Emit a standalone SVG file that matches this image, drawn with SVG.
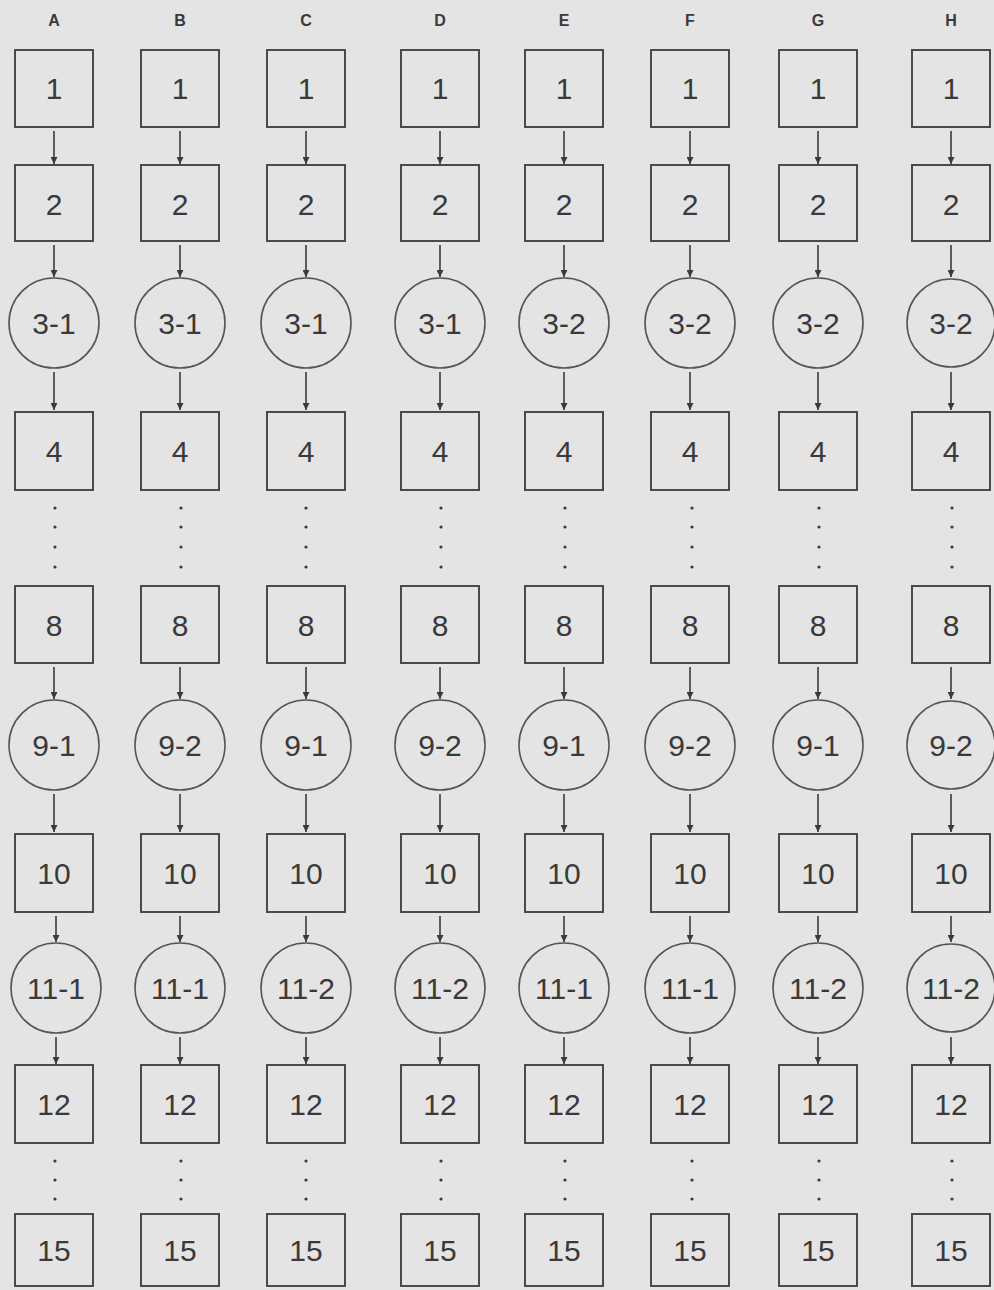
<svg xmlns="http://www.w3.org/2000/svg" width="994" height="1290" viewBox="0 0 994 1290">
<defs>
<marker id="ah" viewBox="0 0 10 10" refX="10" refY="5" markerWidth="8" markerHeight="7" markerUnits="userSpaceOnUse" orient="auto"><path d="M0,0 L10,5 L0,10 z" fill="#3a3a3a"/></marker>
<style>
.b{fill:none;stroke:#4a4a4a;stroke-width:2}
.c{fill:none;stroke:#555;stroke-width:1.6}
.t{font-family:"Liberation Sans",Arial,sans-serif;font-size:30px;fill:#3a3a3a;text-anchor:middle}
.h{font-family:"Liberation Sans",Arial,sans-serif;font-size:16px;font-weight:bold;fill:#3a3a3a;text-anchor:middle}
.a{stroke:#3a3a3a;stroke-width:1.6;fill:none;marker-end:url(#ah)}
.d{fill:#3a3a3a}
</style>
</defs>
<rect width="994" height="1290" fill="#e4e4e4"/>
<g id="headers">
<text class="h" x="54" y="26">A</text><text class="h" x="180" y="26">B</text><text class="h" x="306" y="26">C</text><text class="h" x="440" y="26">D</text><text class="h" x="564" y="26">E</text><text class="h" x="690" y="26">F</text><text class="h" x="818" y="26">G</text><text class="h" x="951" y="26">H</text>
</g>
<g id="colA">
<g id="A1"><rect class="b" x="15" y="50" width="78" height="77"/><text class="t" x="54" y="99">1</text></g>
<g id="A2"><rect class="b" x="15" y="165" width="78" height="76"/><text class="t" x="54" y="215">2</text></g>
<g id="A3"><circle class="c" cx="54" cy="323" r="45"/><text class="t" x="54" y="334">3-1</text></g>
<g id="A4"><rect class="b" x="15" y="412" width="78" height="78"/><text class="t" x="54" y="462">4</text></g>
<g id="A8"><rect class="b" x="15" y="586" width="78" height="77"/><text class="t" x="54" y="636">8</text></g>
<g id="A9"><circle class="c" cx="54" cy="745" r="45"/><text class="t" x="54" y="756">9-1</text></g>
<g id="A10"><rect class="b" x="15" y="834" width="78" height="78"/><text class="t" x="54" y="884">10</text></g>
<g id="A11"><circle class="c" cx="56" cy="988" r="45"/><text class="t" x="56" y="999">11-1</text></g>
<g id="A12"><rect class="b" x="15" y="1065" width="78" height="78"/><text class="t" x="54" y="1115">12</text></g>
<g id="A15"><rect class="b" x="15" y="1214" width="78" height="72"/><text class="t" x="54" y="1261">15</text></g>
</g>
<g id="colB">
<g id="B1"><rect class="b" x="141" y="50" width="78" height="77"/><text class="t" x="180" y="99">1</text></g>
<g id="B2"><rect class="b" x="141" y="165" width="78" height="76"/><text class="t" x="180" y="215">2</text></g>
<g id="B3"><circle class="c" cx="180" cy="323" r="45"/><text class="t" x="180" y="334">3-1</text></g>
<g id="B4"><rect class="b" x="141" y="412" width="78" height="78"/><text class="t" x="180" y="462">4</text></g>
<g id="B8"><rect class="b" x="141" y="586" width="78" height="77"/><text class="t" x="180" y="636">8</text></g>
<g id="B9"><circle class="c" cx="180" cy="745" r="45"/><text class="t" x="180" y="756">9-2</text></g>
<g id="B10"><rect class="b" x="141" y="834" width="78" height="78"/><text class="t" x="180" y="884">10</text></g>
<g id="B11"><circle class="c" cx="180" cy="988" r="45"/><text class="t" x="180" y="999">11-1</text></g>
<g id="B12"><rect class="b" x="141" y="1065" width="78" height="78"/><text class="t" x="180" y="1115">12</text></g>
<g id="B15"><rect class="b" x="141" y="1214" width="78" height="72"/><text class="t" x="180" y="1261">15</text></g>
</g>
<g id="colC">
<g id="C1"><rect class="b" x="267" y="50" width="78" height="77"/><text class="t" x="306" y="99">1</text></g>
<g id="C2"><rect class="b" x="267" y="165" width="78" height="76"/><text class="t" x="306" y="215">2</text></g>
<g id="C3"><circle class="c" cx="306" cy="323" r="45"/><text class="t" x="306" y="334">3-1</text></g>
<g id="C4"><rect class="b" x="267" y="412" width="78" height="78"/><text class="t" x="306" y="462">4</text></g>
<g id="C8"><rect class="b" x="267" y="586" width="78" height="77"/><text class="t" x="306" y="636">8</text></g>
<g id="C9"><circle class="c" cx="306" cy="745" r="45"/><text class="t" x="306" y="756">9-1</text></g>
<g id="C10"><rect class="b" x="267" y="834" width="78" height="78"/><text class="t" x="306" y="884">10</text></g>
<g id="C11"><circle class="c" cx="306" cy="988" r="45"/><text class="t" x="306" y="999">11-2</text></g>
<g id="C12"><rect class="b" x="267" y="1065" width="78" height="78"/><text class="t" x="306" y="1115">12</text></g>
<g id="C15"><rect class="b" x="267" y="1214" width="78" height="72"/><text class="t" x="306" y="1261">15</text></g>
</g>
<g id="colD">
<g id="D1"><rect class="b" x="401" y="50" width="78" height="77"/><text class="t" x="440" y="99">1</text></g>
<g id="D2"><rect class="b" x="401" y="165" width="78" height="76"/><text class="t" x="440" y="215">2</text></g>
<g id="D3"><circle class="c" cx="440" cy="323" r="45"/><text class="t" x="440" y="334">3-1</text></g>
<g id="D4"><rect class="b" x="401" y="412" width="78" height="78"/><text class="t" x="440" y="462">4</text></g>
<g id="D8"><rect class="b" x="401" y="586" width="78" height="77"/><text class="t" x="440" y="636">8</text></g>
<g id="D9"><circle class="c" cx="440" cy="745" r="45"/><text class="t" x="440" y="756">9-2</text></g>
<g id="D10"><rect class="b" x="401" y="834" width="78" height="78"/><text class="t" x="440" y="884">10</text></g>
<g id="D11"><circle class="c" cx="440" cy="988" r="45"/><text class="t" x="440" y="999">11-2</text></g>
<g id="D12"><rect class="b" x="401" y="1065" width="78" height="78"/><text class="t" x="440" y="1115">12</text></g>
<g id="D15"><rect class="b" x="401" y="1214" width="78" height="72"/><text class="t" x="440" y="1261">15</text></g>
</g>
<g id="colE">
<g id="E1"><rect class="b" x="525" y="50" width="78" height="77"/><text class="t" x="564" y="99">1</text></g>
<g id="E2"><rect class="b" x="525" y="165" width="78" height="76"/><text class="t" x="564" y="215">2</text></g>
<g id="E3"><circle class="c" cx="564" cy="323" r="45"/><text class="t" x="564" y="334">3-2</text></g>
<g id="E4"><rect class="b" x="525" y="412" width="78" height="78"/><text class="t" x="564" y="462">4</text></g>
<g id="E8"><rect class="b" x="525" y="586" width="78" height="77"/><text class="t" x="564" y="636">8</text></g>
<g id="E9"><circle class="c" cx="564" cy="745" r="45"/><text class="t" x="564" y="756">9-1</text></g>
<g id="E10"><rect class="b" x="525" y="834" width="78" height="78"/><text class="t" x="564" y="884">10</text></g>
<g id="E11"><circle class="c" cx="564" cy="988" r="45"/><text class="t" x="564" y="999">11-1</text></g>
<g id="E12"><rect class="b" x="525" y="1065" width="78" height="78"/><text class="t" x="564" y="1115">12</text></g>
<g id="E15"><rect class="b" x="525" y="1214" width="78" height="72"/><text class="t" x="564" y="1261">15</text></g>
</g>
<g id="colF">
<g id="F1"><rect class="b" x="651" y="50" width="78" height="77"/><text class="t" x="690" y="99">1</text></g>
<g id="F2"><rect class="b" x="651" y="165" width="78" height="76"/><text class="t" x="690" y="215">2</text></g>
<g id="F3"><circle class="c" cx="690" cy="323" r="45"/><text class="t" x="690" y="334">3-2</text></g>
<g id="F4"><rect class="b" x="651" y="412" width="78" height="78"/><text class="t" x="690" y="462">4</text></g>
<g id="F8"><rect class="b" x="651" y="586" width="78" height="77"/><text class="t" x="690" y="636">8</text></g>
<g id="F9"><circle class="c" cx="690" cy="745" r="45"/><text class="t" x="690" y="756">9-2</text></g>
<g id="F10"><rect class="b" x="651" y="834" width="78" height="78"/><text class="t" x="690" y="884">10</text></g>
<g id="F11"><circle class="c" cx="690" cy="988" r="45"/><text class="t" x="690" y="999">11-1</text></g>
<g id="F12"><rect class="b" x="651" y="1065" width="78" height="78"/><text class="t" x="690" y="1115">12</text></g>
<g id="F15"><rect class="b" x="651" y="1214" width="78" height="72"/><text class="t" x="690" y="1261">15</text></g>
</g>
<g id="colG">
<g id="G1"><rect class="b" x="779" y="50" width="78" height="77"/><text class="t" x="818" y="99">1</text></g>
<g id="G2"><rect class="b" x="779" y="165" width="78" height="76"/><text class="t" x="818" y="215">2</text></g>
<g id="G3"><circle class="c" cx="818" cy="323" r="45"/><text class="t" x="818" y="334">3-2</text></g>
<g id="G4"><rect class="b" x="779" y="412" width="78" height="78"/><text class="t" x="818" y="462">4</text></g>
<g id="G8"><rect class="b" x="779" y="586" width="78" height="77"/><text class="t" x="818" y="636">8</text></g>
<g id="G9"><circle class="c" cx="818" cy="745" r="45"/><text class="t" x="818" y="756">9-1</text></g>
<g id="G10"><rect class="b" x="779" y="834" width="78" height="78"/><text class="t" x="818" y="884">10</text></g>
<g id="G11"><circle class="c" cx="818" cy="988" r="45"/><text class="t" x="818" y="999">11-2</text></g>
<g id="G12"><rect class="b" x="779" y="1065" width="78" height="78"/><text class="t" x="818" y="1115">12</text></g>
<g id="G15"><rect class="b" x="779" y="1214" width="78" height="72"/><text class="t" x="818" y="1261">15</text></g>
</g>
<g id="colH">
<g id="H1"><rect class="b" x="912" y="50" width="78" height="77"/><text class="t" x="951" y="99">1</text></g>
<g id="H2"><rect class="b" x="912" y="165" width="78" height="76"/><text class="t" x="951" y="215">2</text></g>
<g id="H3"><circle class="c" cx="951" cy="323" r="44"/><text class="t" x="951" y="334">3-2</text></g>
<g id="H4"><rect class="b" x="912" y="412" width="78" height="78"/><text class="t" x="951" y="462">4</text></g>
<g id="H8"><rect class="b" x="912" y="586" width="78" height="77"/><text class="t" x="951" y="636">8</text></g>
<g id="H9"><circle class="c" cx="951" cy="745" r="44"/><text class="t" x="951" y="756">9-2</text></g>
<g id="H10"><rect class="b" x="912" y="834" width="78" height="78"/><text class="t" x="951" y="884">10</text></g>
<g id="H11"><circle class="c" cx="951" cy="988" r="44"/><text class="t" x="951" y="999">11-2</text></g>
<g id="H12"><rect class="b" x="912" y="1065" width="78" height="78"/><text class="t" x="951" y="1115">12</text></g>
<g id="H15"><rect class="b" x="912" y="1214" width="78" height="72"/><text class="t" x="951" y="1261">15</text></g>
</g>
<g id="connectors">
<line class="a" x1="54" y1="131" x2="54" y2="164"/><line class="a" x1="54" y1="245" x2="54" y2="277"/><line class="a" x1="54" y1="372" x2="54" y2="410"/><line class="a" x1="54" y1="667" x2="54" y2="699"/><line class="a" x1="54" y1="794" x2="54" y2="832"/><line class="a" x1="56" y1="916" x2="56" y2="942"/><line class="a" x1="56" y1="1037" x2="56" y2="1064"/>
<line class="a" x1="180" y1="131" x2="180" y2="164"/><line class="a" x1="180" y1="245" x2="180" y2="277"/><line class="a" x1="180" y1="372" x2="180" y2="410"/><line class="a" x1="180" y1="667" x2="180" y2="699"/><line class="a" x1="180" y1="794" x2="180" y2="832"/><line class="a" x1="180" y1="916" x2="180" y2="942"/><line class="a" x1="180" y1="1037" x2="180" y2="1064"/>
<line class="a" x1="306" y1="131" x2="306" y2="164"/><line class="a" x1="306" y1="245" x2="306" y2="277"/><line class="a" x1="306" y1="372" x2="306" y2="410"/><line class="a" x1="306" y1="667" x2="306" y2="699"/><line class="a" x1="306" y1="794" x2="306" y2="832"/><line class="a" x1="306" y1="916" x2="306" y2="942"/><line class="a" x1="306" y1="1037" x2="306" y2="1064"/>
<line class="a" x1="440" y1="131" x2="440" y2="164"/><line class="a" x1="440" y1="245" x2="440" y2="277"/><line class="a" x1="440" y1="372" x2="440" y2="410"/><line class="a" x1="440" y1="667" x2="440" y2="699"/><line class="a" x1="440" y1="794" x2="440" y2="832"/><line class="a" x1="440" y1="916" x2="440" y2="942"/><line class="a" x1="440" y1="1037" x2="440" y2="1064"/>
<line class="a" x1="564" y1="131" x2="564" y2="164"/><line class="a" x1="564" y1="245" x2="564" y2="277"/><line class="a" x1="564" y1="372" x2="564" y2="410"/><line class="a" x1="564" y1="667" x2="564" y2="699"/><line class="a" x1="564" y1="794" x2="564" y2="832"/><line class="a" x1="564" y1="916" x2="564" y2="942"/><line class="a" x1="564" y1="1037" x2="564" y2="1064"/>
<line class="a" x1="690" y1="131" x2="690" y2="164"/><line class="a" x1="690" y1="245" x2="690" y2="277"/><line class="a" x1="690" y1="372" x2="690" y2="410"/><line class="a" x1="690" y1="667" x2="690" y2="699"/><line class="a" x1="690" y1="794" x2="690" y2="832"/><line class="a" x1="690" y1="916" x2="690" y2="942"/><line class="a" x1="690" y1="1037" x2="690" y2="1064"/>
<line class="a" x1="818" y1="131" x2="818" y2="164"/><line class="a" x1="818" y1="245" x2="818" y2="277"/><line class="a" x1="818" y1="372" x2="818" y2="410"/><line class="a" x1="818" y1="667" x2="818" y2="699"/><line class="a" x1="818" y1="794" x2="818" y2="832"/><line class="a" x1="818" y1="916" x2="818" y2="942"/><line class="a" x1="818" y1="1037" x2="818" y2="1064"/>
<line class="a" x1="951" y1="131" x2="951" y2="164"/><line class="a" x1="951" y1="245" x2="951" y2="277"/><line class="a" x1="951" y1="372" x2="951" y2="410"/><line class="a" x1="951" y1="667" x2="951" y2="699"/><line class="a" x1="951" y1="794" x2="951" y2="832"/><line class="a" x1="951" y1="916" x2="951" y2="942"/><line class="a" x1="951" y1="1037" x2="951" y2="1064"/>
</g>
<g id="ellipses">
<g class="d">
<circle cx="55" cy="508" r="1.6"/><circle cx="55" cy="527" r="1.6"/><circle cx="55" cy="547" r="1.6"/><circle cx="55" cy="567" r="1.6"/><circle cx="55" cy="1161" r="1.6"/><circle cx="55" cy="1180" r="1.6"/><circle cx="55" cy="1199" r="1.6"/>
<circle cx="181" cy="508" r="1.6"/><circle cx="181" cy="527" r="1.6"/><circle cx="181" cy="547" r="1.6"/><circle cx="181" cy="567" r="1.6"/><circle cx="181" cy="1161" r="1.6"/><circle cx="181" cy="1180" r="1.6"/><circle cx="181" cy="1199" r="1.6"/>
<circle cx="306" cy="508" r="1.6"/><circle cx="306" cy="527" r="1.6"/><circle cx="306" cy="547" r="1.6"/><circle cx="306" cy="567" r="1.6"/><circle cx="306" cy="1161" r="1.6"/><circle cx="306" cy="1180" r="1.6"/><circle cx="306" cy="1199" r="1.6"/>
<circle cx="441" cy="508" r="1.6"/><circle cx="441" cy="527" r="1.6"/><circle cx="441" cy="547" r="1.6"/><circle cx="441" cy="567" r="1.6"/><circle cx="441" cy="1161" r="1.6"/><circle cx="441" cy="1180" r="1.6"/><circle cx="441" cy="1199" r="1.6"/>
<circle cx="565" cy="508" r="1.6"/><circle cx="565" cy="527" r="1.6"/><circle cx="565" cy="547" r="1.6"/><circle cx="565" cy="567" r="1.6"/><circle cx="565" cy="1161" r="1.6"/><circle cx="565" cy="1180" r="1.6"/><circle cx="565" cy="1199" r="1.6"/>
<circle cx="692" cy="508" r="1.6"/><circle cx="692" cy="527" r="1.6"/><circle cx="692" cy="547" r="1.6"/><circle cx="692" cy="567" r="1.6"/><circle cx="692" cy="1161" r="1.6"/><circle cx="692" cy="1180" r="1.6"/><circle cx="692" cy="1199" r="1.6"/>
<circle cx="819" cy="508" r="1.6"/><circle cx="819" cy="527" r="1.6"/><circle cx="819" cy="547" r="1.6"/><circle cx="819" cy="567" r="1.6"/><circle cx="819" cy="1161" r="1.6"/><circle cx="819" cy="1180" r="1.6"/><circle cx="819" cy="1199" r="1.6"/>
<circle cx="952" cy="508" r="1.6"/><circle cx="952" cy="527" r="1.6"/><circle cx="952" cy="547" r="1.6"/><circle cx="952" cy="567" r="1.6"/><circle cx="952" cy="1161" r="1.6"/><circle cx="952" cy="1180" r="1.6"/><circle cx="952" cy="1199" r="1.6"/>
</g>
</g>
</svg>
